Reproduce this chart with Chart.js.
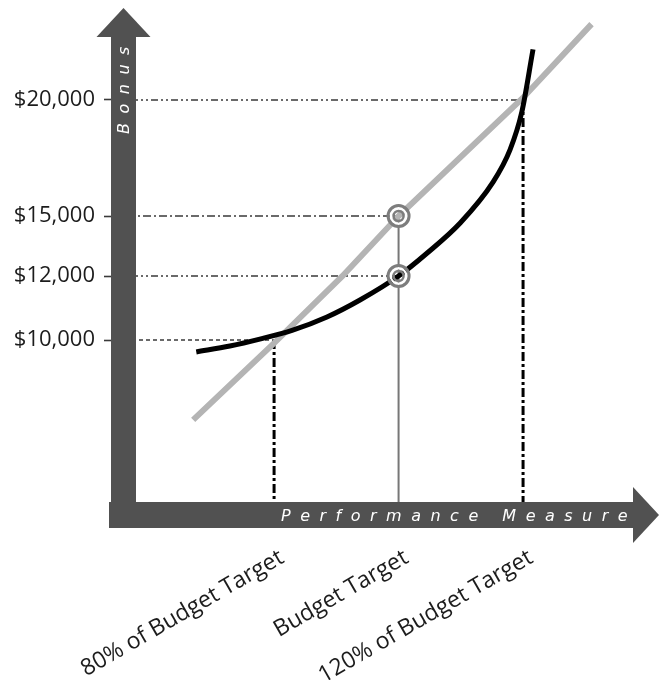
<!DOCTYPE html>
<html>
<head>
<meta charset="utf-8">
<script src="https://cdn.jsdelivr.net/npm/chart.js@4/dist/chart.umd.min.js"></script>
<style>
    html, body { margin: 0; padding: 0; background: #fff; }
    #wrap { width: 660px; height: 680px; position: relative; }
</style>
</head>
<body>
<div id="wrap"><canvas id="bonusChart"></canvas></div>
<script>
// ==================== DATA ====================
const targetPercents = [80, 100, 120];
const targetLabels = ['80% of Budget Target', 'Budget Target', '120% of Budget Target'];
const bonusTicks = [10000, 12000, 15000, 20000];

// black curve (accelerating bonus plan)
const curvePct   = [67.5, 72.9, 77.7, 83.0, 88.5, 93.8, 100, 104.6, 109.9, 115.2, 117.9, 119.8, 121.6];
const curveBonus = [9620, 9810, 10030, 10310, 10720, 11250, 12000, 13150, 14650, 16470, 17850, 19480, 22200];

// gray straight line (linear bonus plan)
const linePct   = [67, 80, 91, 100, 120, 131];
const lineBonus = [7450, 9900, 12000, 15000, 20100, 23300];

// guide lines: bonus level -> performance where it is reached
const guideBonus = [10000, 12000, 15000, 20000];
const guidePct   = [80, 100, 100, 120];

// bonus at budget target for both plans (ringed markers)
const budgetBonus = [15000, 12000];

const xMin = 53.8, xMax = 142;
const yMin = 4000, yMax = 24000;

// ==================== PIECEWISE Y SCALE ====================
// the drawing does not use an even bonus scale, so the scale bends at each label
const bonusKnots = [
    [4000, 0], [10000, 0.3615], [12000, 0.4846], [15000, 0.6], [20000, 0.8231], [24000, 1]
];

class BonusScale extends Chart.LinearScale {
    getPixelForValue(value) {
        if (value === null || value === undefined || isNaN(value)) return NaN;
        const k = bonusKnots;
        let i = 1;
        while (i < k.length - 1 && value > k[i][0]) i++;
        const [v0, f0] = k[i - 1], [v1, f1] = k[i];
        const frac = f0 + (value - v0) / (v1 - v0) * (f1 - f0);
        return this.getPixelForDecimal(frac);
    }
    getValueForPixel(pixel) {
        const frac = this.getDecimalForPixel(pixel);
        const k = bonusKnots;
        let i = 1;
        while (i < k.length - 1 && frac > k[i][1]) i++;
        const [v0, f0] = k[i - 1], [v1, f1] = k[i];
        return v0 + (frac - f0) / (f1 - f0) * (v1 - v0);
    }
}
BonusScale.id = 'bonusPiecewise';
BonusScale.defaults = Chart.LinearScale.defaults;
Chart.register(BonusScale);

// ticks labels must not push the plot area in
function noPadding(s) {
    s.paddingTop = s.paddingBottom = s.paddingLeft = s.paddingRight = 0;
    s.getPadding = () => ({ top: 0, bottom: 0, left: 0, right: 0 });
}

// ==================== AXIS ARROWS ====================
const axisArrows = {
    id: 'axisArrows',
    afterDatasetsDraw(chart) {
        const { ctx, chartArea: a } = chart;
        const shaft = 25, headLen = 29, headHalf = 27;
        ctx.save();
        ctx.fillStyle = '#515151';
        // vertical shaft + head
        ctx.fillRect(a.left, a.top + headLen, shaft, a.bottom - a.top - headLen);
        ctx.beginPath();
        ctx.moveTo(a.left + shaft / 2, a.top);
        ctx.lineTo(a.left + shaft / 2 + headHalf, a.top + headLen);
        ctx.lineTo(a.left + shaft / 2 - headHalf, a.top + headLen);
        ctx.closePath();
        ctx.fill();
        // horizontal shaft + head
        const cy = a.bottom - 13;
        ctx.fillRect(a.left - 2, a.bottom - 26, a.right - a.left - 24, 26);
        ctx.beginPath();
        ctx.moveTo(a.right - 1, cy);
        ctx.lineTo(a.right - 27, cy - 28);
        ctx.lineTo(a.right - 27, cy + 28);
        ctx.closePath();
        ctx.fill();

        // spaced italic titles on the arrows
        ctx.fillStyle = '#ffffff';
        ctx.font = 'italic 16px "DejaVu Sans"';
        ctx.textBaseline = 'alphabetic';
        const spaced = (text, x, y, gap) => {
            for (const ch of text) {
                ctx.fillText(ch, x, y);
                x += ctx.measureText(ch).width + gap;
            }
        };
        spaced('Performance Measure', 281, a.bottom - 7, 9.5);
        ctx.save();
        ctx.translate(a.left + shaft / 2 + 5, 134);
        ctx.rotate(-Math.PI / 2);
        spaced('Bonus', 0, 0, 9.5);
        ctx.restore();
        ctx.restore();
    }
};

// ==================== CHART ====================
function pts(xs, ys) {
    return xs.map((x, i) => ({ x: x, y: ys[i] }));
}

const guideDash = {
    10000: [4, 3],
    12000: [7, 3, 2, 3, 2, 3],
    15000: [8, 3, 2, 3],
    20000: [7, 3, 2, 3, 2, 3]
};

const datasets = [];

// rings at the budget target
datasets.push({
    data: budgetBonus.map(b => ({ x: 100, y: b })),
    showLine: false, pointRadius: 5, pointBorderWidth: 2.5,
    pointBorderColor: '#7d7d7d', pointBackgroundColor: 'transparent', order: 1
});
datasets.push({
    data: budgetBonus.map(b => ({ x: 100, y: b })),
    showLine: false, pointRadius: 10.5, pointBorderWidth: 3,
    pointBorderColor: '#7d7d7d', pointBackgroundColor: 'transparent', order: 2
});
datasets.push({
    data: budgetBonus.map(b => ({ x: 100, y: b })),
    showLine: false, pointRadius: 7.8, pointBorderWidth: 2.4,
    pointBorderColor: '#ffffff', pointBackgroundColor: 'transparent', order: 3
});

// accelerating curve
datasets.push({
    data: pts(curvePct, curveBonus),
    borderColor: '#000000', borderWidth: 5, pointRadius: 0,
    cubicInterpolationMode: 'monotone', borderCapStyle: 'butt', order: 4
});

// linear plan
datasets.push({
    data: pts(linePct, lineBonus),
    borderColor: '#b4b4b4', borderWidth: 6, pointRadius: 0,
    tension: 0, borderCapStyle: 'butt', order: 5
});

// horizontal guides from the bonus axis
guideBonus.forEach((b, i) => {
    datasets.push({
        data: [{ x: xMin, y: b }, { x: guidePct[i], y: b }],
        borderColor: '#3a3a3a', borderWidth: 1.6, borderDash: guideDash[b],
        pointRadius: 0, tension: 0, order: 7
    });
});

// drop lines to the performance axis
datasets.push({
    data: [{ x: 100, y: budgetBonus[0] }, { x: 100, y: yMin }],
    borderColor: '#777777', borderWidth: 2, pointRadius: 0, order: 6
});
[[targetPercents[0], guideBonus[0]], [targetPercents[2], guideBonus[3]]].forEach(([p, b]) => {
    datasets.push({
        data: [{ x: p, y: b }, { x: p, y: yMin }],
        borderColor: '#000000', borderWidth: 3, borderDash: [9, 3, 3, 3],
        pointRadius: 0, order: 6
    });
});

new Chart(document.getElementById('bonusChart'), {
    type: 'line',
    data: { datasets: datasets },
    options: {
        responsive: true,
        maintainAspectRatio: false,
        animation: false,
        layout: { autoPadding: false, padding: { top: 8, right: 0, left: 0, bottom: 0 } },
        plugins: { legend: { display: false }, tooltip: { enabled: false } },
        scales: {
            x: {
                type: 'linear',
                min: xMin, max: xMax,
                afterBuildTicks: s => { s.ticks = targetPercents.map(v => ({ value: v })); },
                afterFit: s => { s.height = 152; noPadding(s); },
                grid: { display: false, drawTicks: false },
                border: { display: false },
                ticks: {
                    autoSkip: false, minRotation: 30, maxRotation: 30, padding: 16,
                    labelOffset: 8,
                    color: '#1c1c1c', font: { family: "'Open Sans'", size: 23 },
                    callback: (v, i) => targetLabels[i]
                }
            },
            y: {
                type: 'bonusPiecewise',
                min: yMin, max: yMax,
                afterBuildTicks: s => { s.ticks = bonusTicks.map(v => ({ value: v })); },
                afterFit: s => { s.width = 111; noPadding(s); },
                grid: { drawOnChartArea: false, tickLength: 7, tickColor: '#3a3a3a', tickWidth: 1.6 },
                border: { display: false },
                ticks: {
                    padding: 9, color: '#1c1c1c', font: { family: "'Open Sans'", size: 22 },
                    callback: v => '$' + v.toLocaleString('en-US')
                }
            }
        }
    },
    plugins: [axisArrows]
});
</script>
</body>
</html>
